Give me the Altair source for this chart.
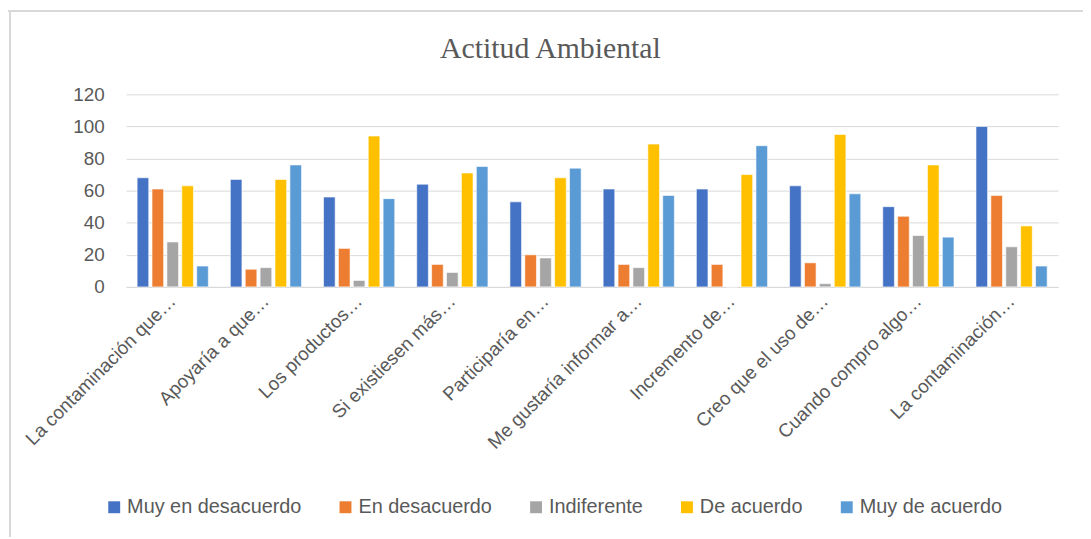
import altair as alt
import pandas as pd

categories = [
    "La contaminación que…",
    "Apoyaría a que…",
    "Los productos…",
    "Si existiesen más…",
    "Participaría en…",
    "Me gustaría informar a…",
    "Incremento de…",
    "Creo que el uso de…",
    "Cuando compro algo…",
    "La contaminación…",
]
series = ["Muy en desacuerdo", "En desacuerdo", "Indiferente", "De acuerdo", "Muy de acuerdo"]
colors = ["#4472C4", "#ED7D31", "#A5A5A5", "#FFC000", "#5B9BD5"]

muy_en_desacuerdo = [68, 67, 56, 64, 53, 61, 61, 63, 50, 100]
en_desacuerdo = [61, 11, 24, 14, 20, 14, 14, 15, 44, 57]
indiferente = [28, 12, 4, 9, 18, 12, 0, 2, 32, 25]
de_acuerdo = [63, 67, 94, 71, 68, 89, 70, 95, 76, 38]
muy_de_acuerdo = [13, 76, 55, 75, 74, 57, 88, 58, 31, 13]

values = [muy_en_desacuerdo, en_desacuerdo, indiferente, de_acuerdo, muy_de_acuerdo]
rows = []
for s, vals in zip(series, values):
    for c, v in zip(categories, vals):
        rows.append({"categoria": c, "serie": s, "valor": v})
df = pd.DataFrame(rows)

FONT = "Liberation Sans"
GREY = "#595959"

bars = alt.Chart(df).mark_bar(stroke="white", strokeWidth=0.6).encode(
    x=alt.X("categoria:N", sort=categories, title=None,
            scale=alt.Scale(paddingInner=0.236, paddingOuter=0.118),
            axis=alt.Axis(labelAngle=-45, labelAlign="right", labelBaseline="middle",
                          labelFontSize=19, labelColor=GREY, labelFont=FONT,
                          labelLimit=400, ticks=False, domainColor="#D9D9D9",
                          labelPadding=11)),
    xOffset=alt.XOffset("serie:N", sort=series,
                        scale=alt.Scale(paddingInner=0.22, paddingOuter=0.0)),
    y=alt.Y("valor:Q", title=None,
            scale=alt.Scale(domain=[0, 120]),
            axis=alt.Axis(values=[0, 20, 40, 60, 80, 100, 120], labelFontSize=19,
                          labelColor=GREY, labelFont=FONT, ticks=False, domain=False,
                          gridColor="#D9D9D9", labelPadding=22)),
    color=alt.Color("serie:N", sort=series,
                    scale=alt.Scale(domain=series, range=colors),
                    legend=alt.Legend(title=None, orient="none", direction="horizontal",
                                      legendX=-22, legendY=406,
                                      symbolType="square", symbolSize=144,
                                      symbolStrokeWidth=0,
                                      labelFontSize=20, labelColor=GREY, labelFont=FONT,
                                      labelLimit=400,
                                      columnPadding=34, labelOffset=3)),
)

border_top = alt.Chart(df).mark_rule(color="#D9D9D9", strokeWidth=1.5).encode(
    x=alt.value(-119), x2=alt.value(964), y=alt.value(-84)
)
border_left = alt.Chart(df).mark_rule(color="#D9D9D9", strokeWidth=1.5).encode(
    x=alt.value(-117), y=alt.value(-84), y2=alt.value(446)
)

chart = alt.layer(bars, border_top, border_left).properties(
    width=939,
    height=194,
    title=alt.TitleParams("Actitud Ambiental", font="Liberation Serif", fontSize=30,
                          fontWeight="normal", color=GREY, anchor="middle",
                          dx=-42, dy=82, offset=28),
    autosize=alt.AutoSizeParams(type="none"),
    padding={"left": 119, "top": 85, "right": 25, "bottom": 252},
).configure_view(stroke=None)

chart.save("out.html", embed_options={"renderer": "svg", "actions": False})
